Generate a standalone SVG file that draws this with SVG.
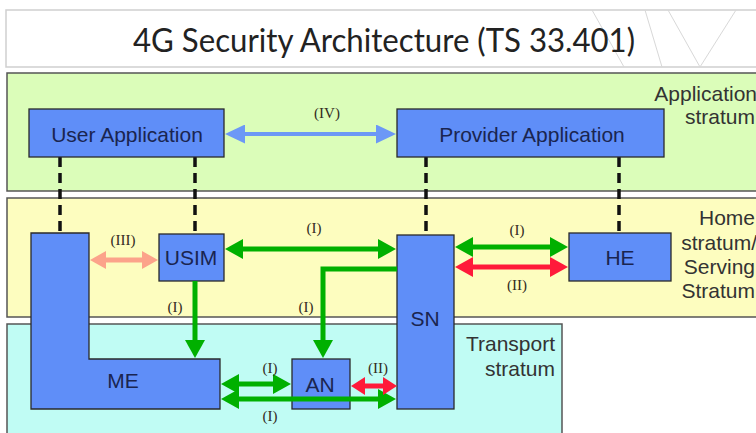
<svg xmlns="http://www.w3.org/2000/svg" width="756" height="433" viewBox="0 0 756 433">
<style>
.stratum{stroke:#555;stroke-width:1.5}
.node{fill:#5f8ef8;stroke:#2a2a2a;stroke-width:1.3}
.ntext{font-family:"Liberation Sans",Arial,sans-serif;font-size:21px;fill:#1a2550;text-anchor:middle}
.stext{font-family:"Liberation Sans",Arial,sans-serif;font-size:21px;fill:#333;text-anchor:end}
.lbl{font-family:"Liberation Serif","Times New Roman",serif;font-size:15px;fill:#332b22;text-anchor:middle}
.dash{stroke:#111;stroke-width:3.5;stroke-dasharray:10 6;fill:none}
.g{stroke:#00b000;stroke-width:5;fill:none}
.r{stroke:#ff1a3a;stroke-width:5;fill:none}
.s{stroke:#fca38a;stroke-width:5;fill:none}
.b{stroke:#6c98f6;stroke-width:4;fill:none}
</style>
<defs>
<marker id="mg" markerUnits="userSpaceOnUse" viewBox="0 0 18 20" refX="0" refY="10" markerWidth="18" markerHeight="20" orient="auto-start-reverse"><path d="M0,0 L18,10 L0,20 z" fill="#00b000"/></marker>
<marker id="mr" markerUnits="userSpaceOnUse" viewBox="0 0 18 20" refX="0" refY="10" markerWidth="18" markerHeight="20" orient="auto-start-reverse"><path d="M0,0 L18,10 L0,20 z" fill="#ff1a3a"/></marker>
<marker id="mrs" markerUnits="userSpaceOnUse" viewBox="0 0 14 18" refX="0" refY="9" markerWidth="14" markerHeight="18" orient="auto-start-reverse"><path d="M0,0 L14,9 L0,18 z" fill="#ff1a3a"/></marker>
<marker id="ms" markerUnits="userSpaceOnUse" viewBox="0 0 16 18" refX="0" refY="9" markerWidth="16" markerHeight="18" orient="auto-start-reverse"><path d="M0,0 L16,9 L0,18 z" fill="#fca38a"/></marker>
<marker id="mb" markerUnits="userSpaceOnUse" viewBox="0 0 20 19" refX="0" refY="9.5" markerWidth="20" markerHeight="19" orient="auto-start-reverse"><path d="M0,0 L20,9.5 L0,19 z" fill="#6c98f6"/></marker>
</defs>
<rect width="756" height="433" fill="#fff"/>
<g id="title">
<rect x="6" y="10" width="760" height="57" fill="#fff" stroke="#cfcfcf" stroke-width="1.5"/>
<g stroke="#d8d8d8" stroke-width="1" fill="none">
<path d="M592,10 L624,67"/><path d="M645,10 L662,67"/><path d="M668,10 L700,67"/><path d="M700,67 L736,10"/>
</g>
<text x="133" y="52" font-family="Lato,'Open Sans',sans-serif" font-size="32" fill="#222" textLength="502" lengthAdjust="spacingAndGlyphs">4G Security Architecture (TS 33.401)</text>
</g>
<g id="strata">
<rect id="application-stratum" class="stratum" x="7" y="73" width="760" height="118" fill="#dbfdb9"/>
<rect id="home-stratum" class="stratum" x="7" y="198" width="760" height="119" fill="#fdfdbf"/>
<rect id="transport-stratum" class="stratum" x="7" y="324" width="555" height="120" fill="#c0fcf4"/>
<text class="stext" x="757" y="101">Application</text>
<text class="stext" x="755" y="124">stratum</text>
<text class="stext" x="755" y="225">Home</text>
<text class="stext" x="757" y="250">stratum/</text>
<text class="stext" x="755" y="274">Serving</text>
<text class="stext" x="755" y="298">Stratum</text>
<text class="stext" x="555" y="351">Transport</text>
<text class="stext" x="555" y="376">stratum</text>
</g>
<g id="dashes">
<path class="dash" d="M60,157 V233"/>
<path class="dash" d="M195,157 V234"/>
<path class="dash" d="M426,157 V235"/>
<path class="dash" d="M619,157 V233"/>
</g>
<g id="user-application"><rect class="node" x="29" y="109" width="195" height="48"/><text class="ntext" x="127" y="142">User Application</text></g>
<g id="provider-application"><rect class="node" x="397" y="109" width="267" height="48"/><text class="ntext" x="532" y="142">Provider Application</text></g>
<g id="me"><path class="node" d="M31,233 H89 V359 H220 V409 H31 Z"/><text class="ntext" x="123" y="388">ME</text></g>
<g id="usim"><rect class="node" x="159" y="234" width="65" height="47"/><text class="ntext" x="191" y="265">USIM</text></g>
<g id="sn"><rect class="node" x="397" y="235" width="57" height="174"/><text class="ntext" x="425" y="326">SN</text></g>
<g id="he"><rect class="node" x="569" y="233" width="102" height="48"/><text class="ntext" x="620" y="265">HE</text></g>
<g id="an"><rect class="node" x="292" y="359" width="58" height="50"/><text class="ntext" x="320" y="392">AN</text></g>
<g id="connectors">
<path class="b" d="M245,134 H376" marker-start="url(#mb)" marker-end="url(#mb)"/>
<path class="s" d="M106,260 H142" marker-start="url(#ms)" marker-end="url(#ms)"/>
<path class="g" d="M243,249 H378" marker-start="url(#mg)" marker-end="url(#mg)"/>
<path class="g" d="M473,247 H550" marker-start="url(#mg)" marker-end="url(#mg)"/>
<path class="r" d="M473,267 H550" marker-start="url(#mr)" marker-end="url(#mr)"/>
<path class="g" d="M195,281 V340" marker-end="url(#mg)"/>
<path class="g" d="M397,269 H323 V340" marker-end="url(#mg)"/>
<path class="g" d="M239,384 H273" marker-start="url(#mg)" marker-end="url(#mg)"/>
<path class="g" d="M239,399 H378" marker-start="url(#mg)" marker-end="url(#mg)"/>
<path class="r" d="M365,386 H383" marker-start="url(#mrs)" marker-end="url(#mrs)"/>
<text class="lbl" x="327" y="118">(IV)</text>
<text class="lbl" x="123" y="245">(III)</text>
<text class="lbl" x="314" y="233">(I)</text>
<text class="lbl" x="175" y="312">(I)</text>
<text class="lbl" x="306" y="312">(I)</text>
<text class="lbl" x="517" y="235">(I)</text>
<text class="lbl" x="517" y="290">(II)</text>
<text class="lbl" x="270" y="373">(I)</text>
<text class="lbl" x="270" y="421">(I)</text>
<text class="lbl" x="378" y="373">(II)</text>
</g>
</svg>
